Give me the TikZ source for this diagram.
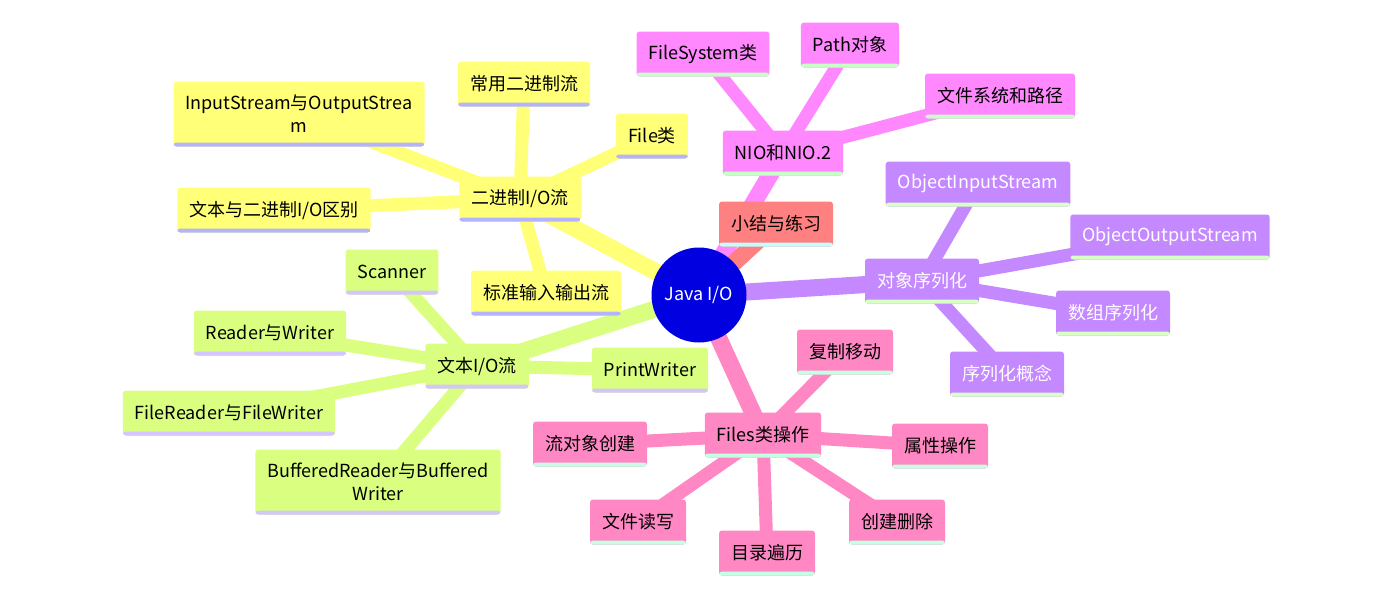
\documentclass[tikz,border=0pt]{standalone}
\usepackage{fontspec}
\setmainfont{Noto Sans CJK SC}
\usetikzlibrary{positioning, backgrounds}
\usepackage{xcolor}
\definecolor{mmblue}{HTML}{0000E0}
\definecolor{mmyel}{HTML}{FFFF78}
\definecolor{mmyelline}{HTML}{B3B3FF}
\definecolor{mmgrn}{HTML}{DAFF80}
\definecolor{mmgrnline}{HTML}{D4C4FF}
\definecolor{mmnio}{HTML}{FF88FF}
\definecolor{mmnioline}{HTML}{C8FFC8}
\definecolor{mmsal}{HTML}{FF8080}
\definecolor{mmsalline}{HTML}{C0FFFF}
\definecolor{mmpur}{HTML}{C488FF}
\definecolor{mmpurline}{HTML}{D8FFC4}
\definecolor{mmfil}{HTML}{FF88C4}
\definecolor{mmfilline}{HTML}{C4FFE4}

\begin{document}
\begin{tikzpicture}[x=1pt, y=-1pt, font=\fontsize{18}{23}\selectfont,
    box/.style={rectangle, rounded corners=3pt, inner xsep=12pt, minimum height=45pt},
    tall/.style={align=center, minimum height=65pt},
    strip/.style={path picture={\fill[#1] ([yshift=4pt]path picture bounding box.south west) rectangle (path picture bounding box.south east);}},
    yel/.style={box, fill=mmyel, strip=mmyelline},
    grn/.style={box, fill=mmgrn, strip=mmgrnline},
    nio/.style={box, fill=mmnio, strip=mmnioline},
    sal/.style={box, fill=mmsal, strip=mmsalline},
    pur/.style={box, fill=mmpur, strip=mmpurline, text=white},
    fil/.style={box, fill=mmfil, strip=mmfilline},
    hub/.style={circle, fill=mmblue, text=white, minimum size=95pt, inner sep=0pt},
    trunk/.style={line width=17pt},
    twig/.style={line width=13pt}]
  \useasboundingbox (0,0) rectangle (1375,606);

  \node[hub] (java) at (699,295) {Java I/O};

  \node[yel] (bin) at (520,199) {二进制I/O流};
  \node[yel, tall] (iostream) at (299,114) {InputStream与OutputStrea\\m};
  \node[yel] (common) at (524,84) {常用二进制流};
  \node[yel] (filecls) at (652,136) {File类};
  \node[yel] (diff) at (274,210) {文本与二进制I/O区别};
  \node[yel] (stdio) at (546,293) {标准输入输出流};

  \node[grn] (text) at (477,366) {文本I/O流};
  \node[grn] (scanner) at (392,272) {Scanner};
  \node[grn] (rw) at (270,333) {Reader与Writer};
  \node[grn] (frw) at (229,413) {FileReader与FileWriter};
  \node[grn, tall] (brw) at (378,482) {BufferedReader与Buffered\\Writer};
  \node[grn] (pw) at (650,370) {PrintWriter};

  \node[nio] (nio) at (783,153) {NIO和NIO.2};
  \node[nio] (fs) at (703,54) {FileSystem类};
  \node[nio] (path) at (850,45) {Path对象};
  \node[nio] (fsp) at (1000,96) {文件系统和路径};

  \node[sal] (sum) at (776,224) {小结与练习};

  \node[pur] (ser) at (922,281) {对象序列化};
  \node[pur] (ois) at (978,184) {ObjectInputStream};
  \node[pur] (oos) at (1170,237) {ObjectOutputStream};
  \node[pur] (arr) at (1113,313) {数组序列化};
  \node[pur] (concept) at (1007,374) {序列化概念};

  \node[fil] (files) at (763,435) {Files类操作};
  \node[fil] (copy) at (845,352) {复制移动};
  \node[fil] (stream) at (590,444) {流对象创建};
  \node[fil] (attr) at (940,446) {属性操作};
  \node[fil] (rwfile) at (638,522) {文件读写};
  \node[fil] (walk) at (767,553) {目录遍历};
  \node[fil] (crdel) at (897,522) {创建删除};

  \begin{scope}[on background layer]
    \foreach \n/\c in {bin/mmyel, text/mmgrn, nio/mmnio, sum/mmsal, ser/mmpur, files/mmfil}
      \draw[trunk, draw=\c] (java.center) -- (\n.center);
    \foreach \p/\n/\c in {bin/iostream/mmyel, bin/common/mmyel, bin/filecls/mmyel, bin/diff/mmyel, bin/stdio/mmyel,
        text/scanner/mmgrn, text/rw/mmgrn, text/frw/mmgrn, text/brw/mmgrn, text/pw/mmgrn,
        nio/fs/mmnio, nio/path/mmnio, nio/fsp/mmnio,
        ser/ois/mmpur, ser/oos/mmpur, ser/arr/mmpur, ser/concept/mmpur,
        files/copy/mmfil, files/stream/mmfil, files/attr/mmfil, files/rwfile/mmfil, files/walk/mmfil, files/crdel/mmfil}
      \draw[twig, draw=\c] (\p.center) -- (\n.center);
  \end{scope}
\end{tikzpicture}
\end{document}
